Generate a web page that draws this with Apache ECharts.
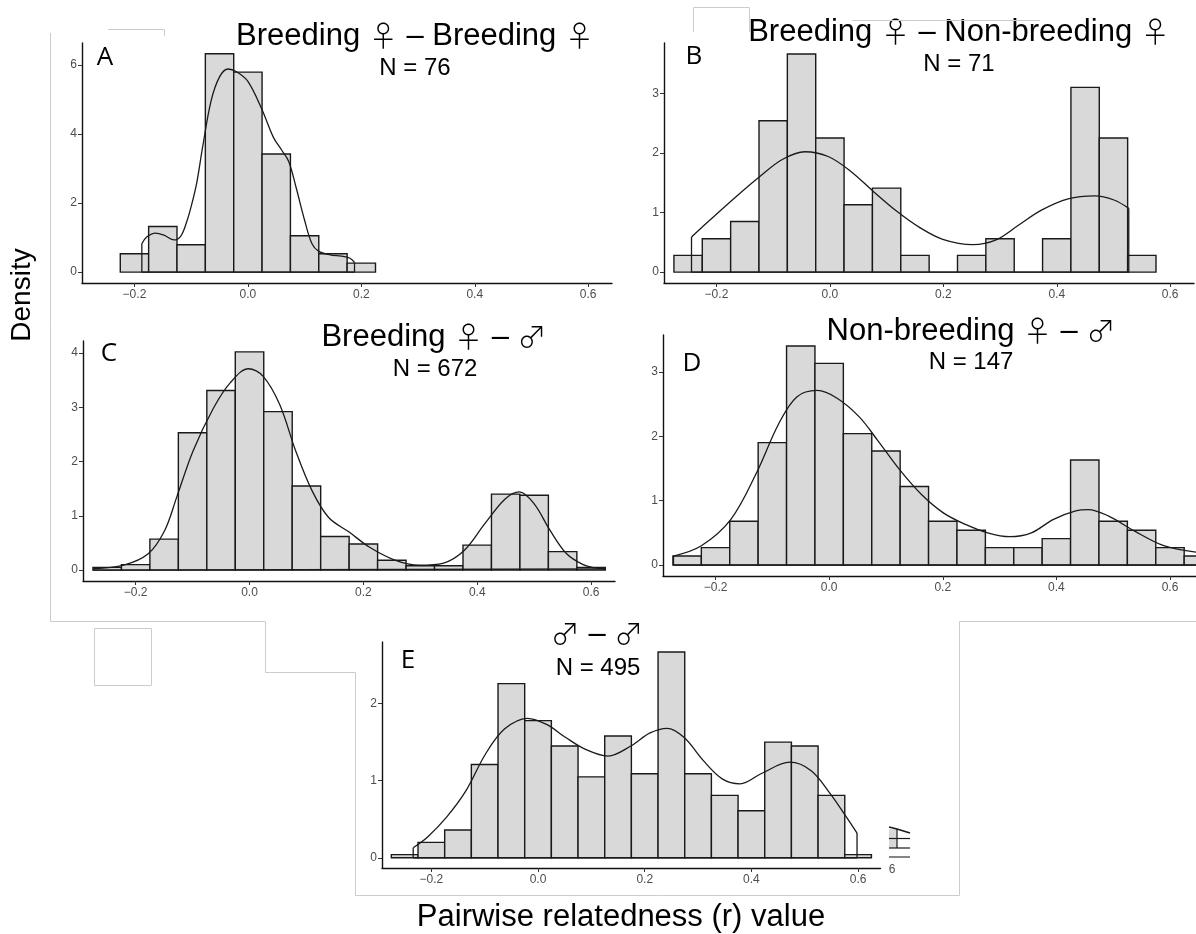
<!DOCTYPE html>
<html>
<head>
<meta charset="utf-8">
<script src="https://cdn.jsdelivr.net/npm/echarts@6/dist/echarts.min.js"></script>
<style>
  html, body { margin: 0; padding: 0; background: #fff; }
  #chart { width: 1196px; height: 934px; }
</style>
</head>
<body>
<div id="chart"></div>
<script>
// histogram bin centres (bin width 0.05) and densities
const binsA = [-0.2, -0.15, -0.1, -0.05, 0, 0.05, 0.1, 0.15, 0.2];
const densA = [0.53, 1.32, 0.79, 6.32, 5.79, 3.42, 1.05, 0.53, 0.26];

const binsB = [-0.25, -0.2, -0.15, -0.1, -0.05, 0, 0.05, 0.1, 0.15, 0.2, 0.25, 0.3, 0.35, 0.4, 0.45, 0.5, 0.55];
const densB = [0.28, 0.56, 0.85, 2.54, 3.66, 2.25, 1.13, 1.41, 0.28, 0, 0.28, 0.56, 0, 0.56, 3.10, 2.25, 0.28];

const binsC = [-0.25, -0.2, -0.15, -0.1, -0.05, 0, 0.05, 0.1, 0.15, 0.2, 0.25, 0.3, 0.35, 0.4, 0.45, 0.5, 0.55, 0.6];
const densC = [0.05, 0.10, 0.57, 2.53, 3.31, 4.02, 2.92, 1.55, 0.62, 0.48, 0.18, 0.08, 0.08, 0.46, 1.40, 1.38, 0.34, 0.05];

const binsD = [-0.25, -0.2, -0.15, -0.1, -0.05, 0, 0.05, 0.1, 0.15, 0.2, 0.25, 0.3, 0.35, 0.4, 0.45, 0.5, 0.55, 0.6, 0.65];
const densD = [0.14, 0.27, 0.68, 1.90, 3.40, 3.13, 2.04, 1.77, 1.22, 0.68, 0.54, 0.27, 0.27, 0.41, 1.63, 0.68, 0.54, 0.27, 0.14];

const binsE = [-0.25, -0.2, -0.15, -0.1, -0.05, 0, 0.05, 0.1, 0.15, 0.2, 0.25, 0.3, 0.35, 0.4, 0.45, 0.5, 0.55, 0.6];
const densE = [0.04, 0.20, 0.36, 1.21, 2.26, 1.78, 1.45, 1.05, 1.58, 1.09, 2.67, 1.09, 0.81, 0.61, 1.50, 1.45, 0.81, 0.04];

// density curves [r, density]
const curveA = [[-0.187, 0.82], [-0.178, 1.02], [-0.163, 1.13], [-0.148, 1.07], [-0.13, 0.93], [-0.118, 1.05],
  [-0.108, 1.45], [-0.1, 1.9], [-0.09, 2.6], [-0.08, 3.6], [-0.065, 4.95], [-0.05, 5.65], [-0.035, 5.88],
  [-0.02, 5.8], [0, 5.52], [0.025, 4.7], [0.045, 3.9], [0.06, 3.52], [0.072, 3.2], [0.085, 2.45], [0.1, 1.5],
  [0.113, 0.82], [0.125, 0.6], [0.145, 0.5], [0.165, 0.46], [0.18, 0.4], [0.188, 0.28]];
const curveB = [[-0.244, 0.59], [-0.205, 0.93], [-0.165, 1.27], [-0.124, 1.6], [-0.084, 1.89], [-0.044, 2.02],
  [-0.003, 1.94], [0.037, 1.69], [0.077, 1.35], [0.118, 1.02], [0.158, 0.75], [0.199, 0.55], [0.252, 0.46],
  [0.293, 0.54], [0.333, 0.79], [0.373, 1.04], [0.42, 1.23], [0.467, 1.28], [0.501, 1.21], [0.527, 1.07]];
const curveC = [[-0.274, 0.025], [-0.221, 0.09], [-0.178, 0.3], [-0.149, 0.73], [-0.128, 1.34], [-0.099, 2.2],
  [-0.063, 2.99], [-0.034, 3.45], [-0.002, 3.71], [0.024, 3.57], [0.053, 3.05], [0.081, 2.2], [0.11, 1.46],
  [0.139, 0.97], [0.175, 0.7], [0.211, 0.42], [0.254, 0.19], [0.298, 0.09], [0.341, 0.13], [0.377, 0.36],
  [0.413, 0.85], [0.449, 1.31], [0.474, 1.44], [0.5, 1.22], [0.528, 0.73], [0.557, 0.3], [0.586, 0.1],
  [0.607, 0.04], [0.625, 0.02]];
const curveD = [[-0.274, 0.14], [-0.225, 0.3], [-0.173, 0.71], [-0.128, 1.43], [-0.089, 2.19], [-0.057, 2.61],
  [-0.021, 2.71], [0.014, 2.59], [0.053, 2.3], [0.085, 1.94], [0.124, 1.48], [0.163, 1.09], [0.201, 0.81],
  [0.24, 0.63], [0.279, 0.5], [0.318, 0.44], [0.356, 0.5], [0.395, 0.71], [0.434, 0.84], [0.456, 0.86],
  [0.492, 0.76], [0.537, 0.53], [0.589, 0.3], [0.646, 0.2]];
const curveE = [[-0.234, 0.13], [-0.207, 0.27], [-0.171, 0.53], [-0.135, 0.87], [-0.099, 1.34], [-0.063, 1.67],
  [-0.02, 1.81], [0.016, 1.73], [0.052, 1.56], [0.088, 1.41], [0.131, 1.32], [0.174, 1.45], [0.21, 1.62],
  [0.242, 1.68], [0.274, 1.56], [0.31, 1.26], [0.346, 1.02], [0.379, 0.96], [0.418, 1.09], [0.472, 1.24],
  [0.512, 1.13], [0.548, 0.83], [0.576, 0.55], [0.598, 0.32]];

const xTicks = [-0.2, 0, 0.2, 0.4, 0.6];
const letters = ['A', 'B', 'C', 'D', 'E'];
// {s|..} marks the sex symbols, drawn larger as in the figure
const titles = ['Breeding {s|♀} – Breeding {s|♀}', 'Breeding {s|♀} – Non-breeding {s|♀}',
  'Breeding {s|♀} – {s|♂}', 'Non-breeding {s|♀} – {s|♂}', '{s|♂} – {s|♂}'];
const sizes = ['N = 76', 'N = 71', 'N = 672', 'N = 147', 'N = 495'];

const panels = [
  { bins: binsA, dens: densA, curve: curveA, yTicks: [0, 2, 4, 6], closeRight: true },
  { bins: binsB, dens: densB, curve: curveB, yTicks: [0, 1, 2, 3], closeRight: true },
  { bins: binsC, dens: densC, curve: curveC, yTicks: [0, 1, 2, 3, 4], closeRight: true },
  { bins: binsD, dens: densD, curve: curveD, yTicks: [0, 1, 2, 3], closeRight: false },
  { bins: binsE, dens: densE, curve: curveE, yTicks: [0, 1, 2], closeRight: true },
];

// panel placement inside the composite picture
const layout = [
  { left: 82, top: 43, width: 530, height: 240, xMax: 0.642, yMin: -0.316, yMax: 6.632,
    title: [415, 36], n: [415, 68], letter: [105, 58] },
  { left: 664, top: 43, width: 530, height: 240, xMax: 0.642, yMin: -0.183, yMax: 3.845,
    title: [959, 32], n: [959, 64], letter: [694, 57] },
  { left: 83, top: 341, width: 532, height: 240, xMax: 0.642, yMin: -0.201, yMax: 4.221,
    title: [434, 337], n: [435, 369], letter: [109, 354] },
  { left: 663, top: 335, width: 533, height: 241, xMax: 0.6458, yMin: -0.17, yMax: 3.571,
    title: [971, 331], n: [971, 362], letter: [692, 364] },
  { left: 382, top: 642, width: 498.5, height: 226, xMax: 0.642, yMin: -0.133, yMax: 2.8,
    title: [597, 634], n: [598, 668], letter: [408, 661] },
];
const xMin = -0.2925;

const fmt = v => (v < 0 ? '−' : '') + Math.abs(v).toFixed(1);
const grid = [], xAxis = [], yAxis = [], series = [], graphic = [];
const ink = '#1a1a1a';

panels.forEach((p, i) => {
  const L = layout[i];
  grid.push({ left: L.left, top: L.top, width: L.width, height: L.height });
  xAxis.push({
    gridIndex: i, type: 'value', min: xMin, max: L.xMax,
    axisLine: { onZero: false, lineStyle: { color: '#111', width: 1.4 } },
    axisTick: { customValues: xTicks, length: 4, lineStyle: { color: '#333' } },
    axisLabel: { customValues: xTicks, formatter: fmt, color: '#4d4d4d', fontSize: 12,
      fontFamily: 'Liberation Sans', margin: 6 },
    splitLine: { show: false }
  });
  yAxis.push({
    gridIndex: i, type: 'value', min: L.yMin, max: L.yMax,
    axisLine: { onZero: false, lineStyle: { color: '#111', width: 1.4 } },
    axisTick: { customValues: p.yTicks, length: 4, lineStyle: { color: '#333' } },
    axisLabel: { customValues: p.yTicks, color: '#4d4d4d', fontSize: 12,
      fontFamily: 'Liberation Sans', margin: 5 },
    splitLine: { show: false }
  });
  series.push({
    type: 'custom', xAxisIndex: i, yAxisIndex: i, clip: true,
    data: p.bins.map((b, k) => [b, p.dens[k]]),
    encode: { x: 0, y: 1 },
    renderItem: (params, api) => {
      const c = api.value(0), h = api.value(1);
      const p0 = api.coord([c - 0.025, h]);
      const p1 = api.coord([c + 0.025, 0]);
      return {
        type: 'rect',
        shape: { x: p0[0], y: p0[1], width: p1[0] - p0[0], height: p1[1] - p0[1] },
        style: { fill: '#d9d9d9', stroke: ink, lineWidth: 1.4 }
      };
    }
  });
  series.push({
    type: 'line', xAxisIndex: i, yAxisIndex: i, data: p.curve, smooth: 0.35,
    symbol: 'none', lineStyle: { color: ink, width: 1.3 }, z: 3
  });
  const first = p.curve[0], last = p.curve[p.curve.length - 1];
  const edge = p.closeRight ? [[last[0], last[1]], [last[0], 0]] : [[last[0], 0]];
  series.push({
    type: 'line', xAxisIndex: i, yAxisIndex: i,
    data: edge.concat([[first[0], 0], [first[0], first[1]]]),
    symbol: 'none', lineStyle: { color: ink, width: 1.3 }, z: 3
  });

  graphic.push({ type: 'text', style: { text: titles[i], x: L.title[0], y: L.title[1],
    font: '31px "Liberation Sans"', fill: '#000', align: 'center', verticalAlign: 'middle',
    textAlign: 'center', textVerticalAlign: 'middle',
    rich: { s: { fontSize: 29, fontFamily: 'Noto Sans CJK JP', fontWeight: 300, fill: '#000' } } } });
  graphic.push({ type: 'text', style: { text: sizes[i], x: L.n[0], y: L.n[1],
    font: '24px "Liberation Sans"', fill: '#000', align: 'center', verticalAlign: 'middle',
    textAlign: 'center', textVerticalAlign: 'middle' } });
  graphic.push({ type: 'text', style: { text: letters[i], x: L.letter[0], y: L.letter[1],
    font: '26px "Open Sans"', fill: '#000', align: 'center', verticalAlign: 'middle',
    textAlign: 'center', textVerticalAlign: 'middle' } });
});

// shared axis titles
graphic.push({ type: 'text', x: 22, y: 295, rotation: Math.PI / 2,
  style: { text: 'Density', x: 0, y: 0, font: '28px "Liberation Sans"', fill: '#000',
    align: 'center', verticalAlign: 'middle', textAlign: 'center', textVerticalAlign: 'middle' } });
graphic.push({ type: 'text', style: { text: 'Pairwise relatedness (r) value', x: 621, y: 917,
  font: '31px "Liberation Sans"', fill: '#000', align: 'center', verticalAlign: 'middle',
  textAlign: 'center', textVerticalAlign: 'middle' } });

// faint frame lines left over in the composite
const frame = { stroke: '#cccccc', fill: null, lineWidth: 1 };
graphic.push({ type: 'polyline', silent: true, shape: { points: [[50.5, 33], [50.5, 621.5], [265.5, 621.5],
  [265.5, 672.5], [355.5, 672.5], [355.5, 895.5], [959.5, 895.5], [959.5, 621.5], [1196, 621.5]] }, style: frame });
graphic.push({ type: 'rect', silent: true, shape: { x: 94.5, y: 628.5, width: 57, height: 57 }, style: frame });
graphic.push({ type: 'polyline', silent: true, shape: { points: [[108, 29.5], [164.5, 29.5], [164.5, 36]] }, style: frame });
graphic.push({ type: 'polyline', silent: true, shape: { points: [[693.5, 32], [693.5, 7.5], [749.5, 7.5], [749.5, 32]] }, style: frame });
graphic.push({ type: 'line', silent: true, shape: { x1: 852, y1: 20.5, x2: 1040, y2: 20.5 }, style: frame });

// cut-off fragment of a neighbouring panel to the right of E
graphic.push({ type: 'rect', silent: true, shape: { x: 889, y: 829, width: 8, height: 19 }, style: { fill: '#d9d9d9' } });
graphic.push({ type: 'polyline', silent: true, shape: { points: [[889, 827], [897, 829], [910, 833]] },
  style: { stroke: ink, fill: null, lineWidth: 1.5 } });
graphic.push({ type: 'line', silent: true, shape: { x1: 897, y1: 829, x2: 897, y2: 848 }, style: { stroke: ink, lineWidth: 1.2 } });
graphic.push({ type: 'line', silent: true, shape: { x1: 889, y1: 838.5, x2: 910, y2: 838.5 }, style: { stroke: ink, lineWidth: 1.2 } });
graphic.push({ type: 'line', silent: true, shape: { x1: 889, y1: 848, x2: 910, y2: 848 }, style: { stroke: ink, lineWidth: 1.2 } });
graphic.push({ type: 'line', silent: true, shape: { x1: 889, y1: 857, x2: 910, y2: 857 }, style: { stroke: '#333', lineWidth: 1.2 } });
graphic.push({ type: 'text', silent: true, style: { text: '6', x: 892, y: 870, font: '12px "Liberation Sans"', fill: '#4d4d4d',
  align: 'center', verticalAlign: 'middle', textAlign: 'center', textVerticalAlign: 'middle' } });

const chart = echarts.init(document.getElementById('chart'));
chart.setOption({
  backgroundColor: '#fff',
  animation: false,
  grid, xAxis, yAxis, series, graphic
});
</script>
</body>
</html>
